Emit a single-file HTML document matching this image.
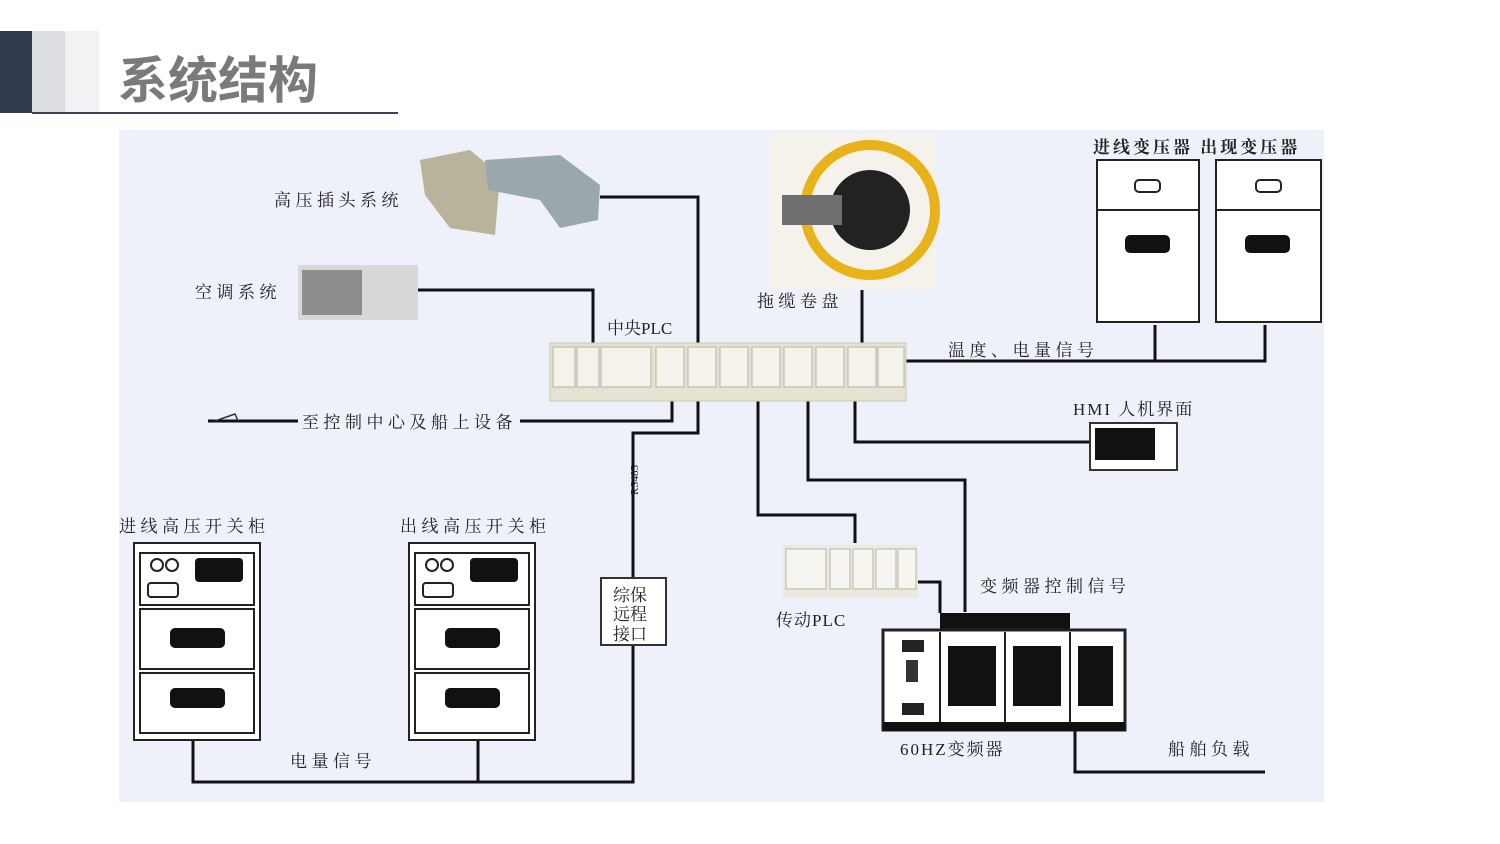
<!DOCTYPE html>
<html><head><meta charset="utf-8"><style>
html,body{margin:0;padding:0;background:#fff;width:1500px;height:844px;overflow:hidden}
svg{display:block}
text{font-family:"Liberation Serif","Noto Serif CJK SC","Noto Sans CJK SC",serif;fill:#222}
.l{letter-spacing:4.5px}
</style></head><body>
<svg width="1500" height="844" viewBox="0 0 1500 844" xmlns="http://www.w3.org/2000/svg">
<rect x="0" y="31" width="32" height="82" fill="#2f3b4c"/>
<rect x="32" y="31" width="33" height="82" fill="#dcdee1"/>
<rect x="65" y="31" width="34" height="82" fill="#f1f2f3"/>
<text x="118" y="98" font-size="50" font-weight="bold" style="font-family:'Noto Sans CJK SC',sans-serif;fill:#7a7a7a">系统结构</text>
<line x1="32" y1="113" x2="398" y2="113" stroke="#3a4658" stroke-width="2"/>
<rect x="119" y="130" width="1205" height="672" fill="#eef0fa"/>

<g stroke="#111" stroke-width="3" fill="none">
<polyline points="600,197 698,197 698,343"/>
<polyline points="415,290 593,290 593,345"/>
<line x1="862" y1="290" x2="862" y2="343"/>
<polyline points="905,361 1265,361 1265,325"/>
<line x1="1155" y1="325" x2="1155" y2="361"/>
<line x1="208" y1="421" x2="298" y2="421"/>
<polyline points="520,421 672,421 672,400"/>
<polyline points="698,400 698,433 633,433 633,578"/>
<polyline points="633,645 633,782 193,782 193,738"/>
<line x1="478" y1="782" x2="478" y2="738"/>
<polyline points="758,400 758,515 855,515 855,543"/>
<polyline points="808,400 808,480 965,480 965,612"/>
<polyline points="855,400 855,442 1090,442"/>
<polyline points="918,582 940,582 940,613"/>
<polyline points="1075,730 1075,772 1265,772"/>
</g>
<g stroke="#333" stroke-width="1.5" fill="none"><path d="M215,421 L235,414 L238,421"/></g>

<path d="M420,160 L470,150 L500,175 L495,235 L450,228 L425,195 Z" fill="#b8b39a"/>
<path d="M485,160 L560,155 L600,185 L598,220 L560,228 L540,200 L488,190 Z" fill="#9aa8ae"/>
<rect x="298" y="265" width="120" height="55" fill="#d8d8d8"/>
<rect x="302" y="270" width="60" height="45" fill="#8d8d8d"/>
<rect x="770" y="133" width="165" height="157" fill="#f4f2ea"/>
<circle cx="870" cy="210" r="65" fill="none" stroke="#e8b21a" stroke-width="10"/>
<circle cx="870" cy="210" r="40" fill="#222"/>
<rect x="782" y="195" width="60" height="30" fill="#6f6f6f"/>

<rect x="550" y="343" width="356" height="58" fill="#e6e2d4" stroke="#cfcab8"/>
<g fill="#f4f2ea" stroke="#b8b3a0">
<rect x="553" y="347" width="22" height="40"/><rect x="577" y="347" width="22" height="40"/><rect x="601" y="347" width="50" height="40"/>
<rect x="656" y="347" width="28" height="40"/><rect x="688" y="347" width="28" height="40"/><rect x="720" y="347" width="28" height="40"/><rect x="752" y="347" width="28" height="40"/><rect x="784" y="347" width="28" height="40"/><rect x="816" y="347" width="28" height="40"/><rect x="848" y="347" width="28" height="40"/><rect x="878" y="347" width="26" height="40"/>
</g>

<g fill="#fff" stroke="#222" stroke-width="2">
<rect x="1097" y="160" width="102" height="162"/><rect x="1216" y="160" width="105" height="162"/>
<line x1="1097" y1="210" x2="1199" y2="210"/><line x1="1216" y1="210" x2="1321" y2="210"/>
</g>
<rect x="1125" y="235" width="45" height="18" rx="5" fill="#111"/><rect x="1245" y="235" width="45" height="18" rx="5" fill="#111"/>
<rect x="1135" y="180" width="25" height="12" rx="4" fill="none" stroke="#222" stroke-width="2"/><rect x="1256" y="180" width="25" height="12" rx="4" fill="none" stroke="#222" stroke-width="2"/>

<rect x="1090" y="423" width="87" height="47" fill="#fff" stroke="#333" stroke-width="2"/>
<rect x="1095" y="428" width="60" height="32" fill="#111"/>

<g fill="#fff" stroke="#222" stroke-width="2">
<rect x="134" y="543" width="126" height="197"/><rect x="409" y="543" width="126" height="197"/>
<rect x="140" y="553" width="114" height="52"/><rect x="140" y="609" width="114" height="60"/><rect x="140" y="673" width="114" height="60"/>
<rect x="415" y="553" width="114" height="52"/><rect x="415" y="609" width="114" height="60"/><rect x="415" y="673" width="114" height="60"/>
</g>
<g fill="#111">
<rect x="170" y="628" width="55" height="20" rx="5"/><rect x="170" y="688" width="55" height="20" rx="5"/>
<rect x="445" y="628" width="55" height="20" rx="5"/><rect x="445" y="688" width="55" height="20" rx="5"/>
<rect x="195" y="558" width="48" height="24" rx="4"/><rect x="470" y="558" width="48" height="24" rx="4"/>
</g>
<g fill="none" stroke="#222" stroke-width="2">
<circle cx="157" cy="565" r="6"/><circle cx="172" cy="565" r="6"/><circle cx="432" cy="565" r="6"/><circle cx="447" cy="565" r="6"/>
<rect x="148" y="583" width="30" height="14" rx="3"/><rect x="423" y="583" width="30" height="14" rx="3"/>
</g>

<rect x="601" y="578" width="65" height="67" fill="#fff" stroke="#333" stroke-width="2"/>
<text x="613" y="601" font-size="17">综保</text><text x="613" y="620" font-size="17">远程</text><text x="613" y="640" font-size="17">接口</text>
<text x="0" y="0" font-size="11" transform="translate(638,495) rotate(-90)">RS485</text>

<rect x="783" y="545" width="135" height="53" fill="#eceae0"/>
<g fill="#f6f5ef" stroke="#b8b3a0"><rect x="786" y="549" width="40" height="40"/><rect x="830" y="549" width="20" height="40"/><rect x="853" y="549" width="20" height="40"/><rect x="876" y="549" width="20" height="40"/><rect x="898" y="549" width="18" height="40"/></g>

<rect x="940" y="613" width="130" height="19" fill="#111"/>
<rect x="883" y="630" width="242" height="100" fill="#fff" stroke="#222" stroke-width="3"/>
<rect x="883" y="722" width="242" height="9" fill="#111"/>
<g fill="#fff" stroke="#222" stroke-width="2"><line x1="940" y1="632" x2="940" y2="722"/><line x1="1005" y1="632" x2="1005" y2="722"/><line x1="1070" y1="632" x2="1070" y2="722"/></g>
<rect x="948" y="646" width="48" height="60" fill="#111"/><rect x="1013" y="646" width="48" height="60" fill="#111"/><rect x="1078" y="646" width="35" height="60" fill="#111"/>
<rect x="902" y="640" width="22" height="12" fill="#222"/><rect x="902" y="703" width="22" height="12" fill="#222"/><rect x="906" y="660" width="12" height="22" fill="#333"/>

<g font-size="17" class="l">
<text x="274" y="206">高压插头系统</text>
<text x="195" y="298">空调系统</text>
<text x="757" y="307">拖缆卷盘</text>
<text x="607" y="334" style="letter-spacing:0">中央PLC</text>
<text x="1093" y="153" font-weight="bold" style="letter-spacing:3px">进线变压器 出现变压器</text>
<text x="948" y="356">温度、电量信号</text>
<text x="1073" y="415" style="letter-spacing:2px">HMI 人机界面</text>
<text x="302" y="428">至控制中心及船上设备</text>
<text x="119" y="532">进线高压开关柜</text>
<text x="400" y="532">出线高压开关柜</text>
<text x="980" y="592">变频器控制信号</text>
<text x="776" y="626" style="letter-spacing:1px">传动PLC</text>
<text x="900" y="755" style="letter-spacing:2px">60HZ变频器</text>
<text x="1168" y="755">船舶负载</text>
<text x="290" y="767">电量信号</text>
</g>
</svg>
</body></html>
